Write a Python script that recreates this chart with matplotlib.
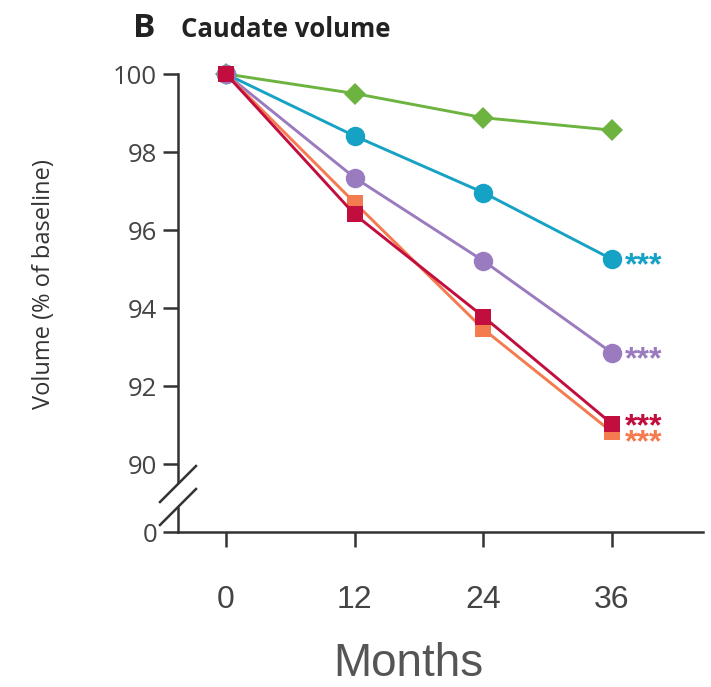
import matplotlib
matplotlib.use("Agg")
import matplotlib.pyplot as plt
from matplotlib.lines import Line2D

# datos
months = [0, 12, 24, 36]
green = [100, 99.50, 98.88, 98.56]
teal = [100, 98.41, 96.96, 95.25]
purple = [100, 97.34, 95.21, 92.85]
orange = [100, 96.70, 93.46, 90.82]
red = [100, 96.40, 93.78, 91.03]
stars = ["", "***", "***", "***", "***"]
yticks = [90, 92, 94, 96, 98, 100]
xticks = [0, 12, 24, 36]

W, H = 711, 687
fig = plt.figure(figsize=(W / 100, H / 100), dpi=100)

def fx(px):
    return px / W

def fy(py):
    return 1 - py / H

axis_col = "#333333"
label_col = "#444444"

# eje superior (90-100)
ax = fig.add_axes([fx(178), fy(482), fx(703) - fx(178), fy(74) - fy(482)])
ax.set_xlim(-4.48, 44.49)
ax.set_ylim(89.54, 100)
for s in ["top", "right", "bottom"]:
    ax.spines[s].set_visible(False)
ax.spines["left"].set_linewidth(1.8)
ax.spines["left"].set_color(axis_col)
ax.set_xticks([])
ax.set_yticks(yticks)
ax.set_yticklabels([str(t) for t in yticks], fontfamily="Open Sans",
                   fontsize=18.5, color=label_col)
ax.tick_params(axis="y", length=11, width=1.8, color=axis_col, pad=4)

series = [
    (green, "#6cb33f", "D", 11.5),
    (teal, "#16a2c4", "o", 14),
    (purple, "#9b7bbf", "o", 14),
    (orange, "#f47b4f", "s", 11.5),
    (red, "#c20e3e", "s", 11.5),
]
star_dy = [0, 0, 0, -4, 4]
for (vals, col, mk, ms), st, dy in zip(series, stars, star_dy):
    ax.plot(months, vals, color=col, lw=2.1, marker=mk, ms=ms,
            markeredgewidth=0, clip_on=False)
    if st:
        ax.annotate(st, xy=(months[-1], vals[-1]), xytext=(13, -15 + dy),
                    textcoords="offset pixels", va="baseline", ha="left",
                    color=col, fontsize=23, fontweight="bold",
                    fontfamily="Liberation Sans", annotation_clip=False)

# eje inferior (0)
ax0 = fig.add_axes([fx(178), fy(532), fx(703) - fx(178), fy(508) - fy(532)])
ax0.set_xlim(ax.get_xlim())
ax0.set_ylim(0, 1)
ax0.spines["top"].set_visible(False)
ax0.spines["right"].set_visible(False)
for s in ["left", "bottom"]:
    ax0.spines[s].set_linewidth(1.8)
    ax0.spines[s].set_color(axis_col)
ax0.set_yticks([0])
ax0.set_yticklabels(["0"], fontfamily="Open Sans", fontsize=18.5, color=label_col)
ax0.set_xticks(xticks)
ax0.set_xticklabels([str(t) for t in xticks], fontfamily="Liberation Sans",
                    fontsize=23, color=label_col)
ax0.tick_params(axis="y", length=11, width=1.8, color=axis_col, pad=4)
ax0.tick_params(axis="x", length=11, width=1.8, color=axis_col, pad=27)

# marcas de corte del eje
for y0 in [502, 525]:
    fig.add_artist(Line2D([fx(160), fx(196)], [fy(y0), fy(y0 - 36)],
                          color=axis_col, lw=1.8))

fig.text(fx(408), fy(664), "Months", fontfamily="Liberation Sans",
         fontsize=33, color="#555555", ha="center", va="center")
fig.text(fx(44), fy(284), "Volume (% of baseline)", fontfamily="Open Sans",
         fontsize=17, color="#333333", rotation=90, ha="center", va="center")
fig.text(fx(133), fy(37), "B", fontfamily="Open Sans", fontweight="bold",
         fontsize=24, color="#222222", ha="left", va="baseline")
fig.text(fx(181), fy(37), "Caudate volume", fontfamily="Open Sans",
         fontweight="bold", fontsize=18.5, color="#222222", ha="left", va="baseline")

fig.savefig("out.png", dpi=100)
